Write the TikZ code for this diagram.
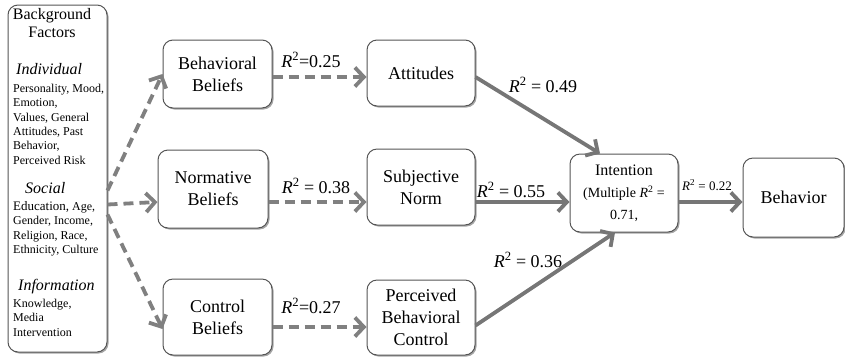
\documentclass[tikz,border=0pt]{standalone}
\usepackage{fontspec}
\setmainfont{Liberation Serif}
\usetikzlibrary{arrows.meta,shadows}
\definecolor{boxline}{RGB}{85,85,85}
\definecolor{flowgray}{RGB}{118,118,118}
\definecolor{dashgray}{RGB}{128,128,128}
\tikzset{>={Straight Barb[length=9pt,width=19pt]}}
\tikzset{
  factor/.style={draw=boxline, line width=1pt, rounded corners=10pt, fill=white,
    drop shadow={shadow xshift=1.5pt, shadow yshift=-1.5pt, fill=black!35, opacity=1},
    align=center, inner sep=0pt, font=\fontsize{18}{22}\selectfont},
  flow/.style={->, draw=flowgray, line width=3.8pt},
  dflow/.style={flow, draw=dashgray, dash pattern=on 10pt off 6pt},
  rlab/.style={anchor=base, inner sep=0pt, font=\fontsize{18}{22}\selectfont},
  bgtext/.style={anchor=north west, align=left, inner sep=0pt,
    font=\fontsize{12}{14.4}\selectfont},
  bghead/.style={anchor=north west, inner sep=0pt, font=\fontsize{16}{18}\selectfont\itshape}
}
\newcommand{\rsq}{\textit{R}\textsuperscript{2}}

\begin{document}
\begin{tikzpicture}[x=1pt,y=-1pt]
\useasboundingbox (0,0) rectangle (845,357);
\node[factor, minimum width=99pt, minimum height=347pt] (bg) at (57.5,178.5) {};
\node[anchor=north, align=center, inner sep=0pt, font=\fontsize{16}{18}\selectfont]
  (bgtitle) at (52,8) {Background\\Factors};
\node[bghead] (indiv) at (16,63) {Individual};
\node[bgtext] (indivlist) at (13,83.7) {Personality, Mood,\\Emotion,\\Values, General\\
  Attitudes, Past\\Behavior,\\Perceived Risk};
\node[bghead] (social) at (25,182) {Social};
\node[bgtext] (sociallist) at (13,201) {{\fontsize{13}{14.4}\selectfont Education,} Age,\\
  Gender, Income,\\Religion, Race,\\Ethnicity, Culture};
\node[bghead] (inform) at (18,279) {Information};
\node[bgtext] (informlist) at (13,298.7) {Knowledge,\\Media\\Intervention};

\node[factor, minimum width=109pt, minimum height=68pt] (bb) at (217.5,74) {Behavioral\\Beliefs};
\node[factor, minimum width=110pt, minimum height=78pt] (nb) at (213,189) {Normative\\Beliefs};
\node[factor, minimum width=109pt, minimum height=76pt] (cb) at (217.5,317) {Control\\Beliefs};
\node[factor, minimum width=108pt, minimum height=66pt] (att) at (421,73) {Attitudes};
\node[factor, minimum width=108pt, minimum height=76pt] (sn) at (421,187) {Subjective\\Norm};
\node[factor, minimum width=108pt, minimum height=75pt] (pbc) at (421,317.5)
  {Perceived\\Behavioral\\Control};
\node[factor, minimum width=108pt, minimum height=78pt] (int) at (624,193)
  {{\fontsize{16}{19}\selectfont Intention}\\
   {\fontsize{14}{16}\selectfont(Multiple \rsq{} =}\\
   {\fontsize{14}{16}\selectfont 0.71,}};
\node[factor, minimum width=101pt, minimum height=79pt] (beh) at (793.5,197.5) {Behavior};

\draw[dflow] ([yshift=-12pt]bg.east) -- (bb.west);
\draw[dflow] ([yshift=-26pt]bg.east) -- ([yshift=-13pt]nb.west);
\draw[dflow] ([yshift=-36pt]bg.east) -- ([yshift=-12pt]cb.west);
\draw[dflow] ([yshift=-3pt]bb.east) -- ([yshift=-3pt]bb.east -| att.west);
\draw[dflow] ([yshift=-13pt]nb.east) -- ([yshift=-13pt]nb.east -| sn.west);
\draw[dflow] ([yshift=-10pt]cb.east) -- ([yshift=-10pt]cb.east -| pbc.west);
\draw[flow] ([yshift=-4pt]att.east) -- ([xshift=-24pt]int.north);
\draw[flow] ([yshift=-9pt]int.west -| sn.east) -- ([yshift=-9pt]int.west);
\draw[flow] ([yshift=-8pt]pbc.east) -- ([xshift=-9pt]int.south);
\draw[flow] ([yshift=-9pt]int.east) -- ([yshift=-9pt]int.east -| beh.west);

\node[rlab] (r25) at (311,67) {\rsq=0.25};
\node[rlab] (r38) at (316,193) {\rsq{} = 0.38};
\node[rlab] (r27) at (311,313) {\rsq=0.27};
\node[rlab] (r49) at (543,92) {\rsq{} = 0.49};
\node[rlab] (r55) at (511,197) {\rsq{} = 0.55};
\node[rlab] (r36) at (528,267) {\rsq{} = 0.36};
\node[rlab, font=\fontsize{13}{15}\selectfont] (r22) at (707,190) {\rsq{} = 0.22};
\end{tikzpicture}
\end{document}
